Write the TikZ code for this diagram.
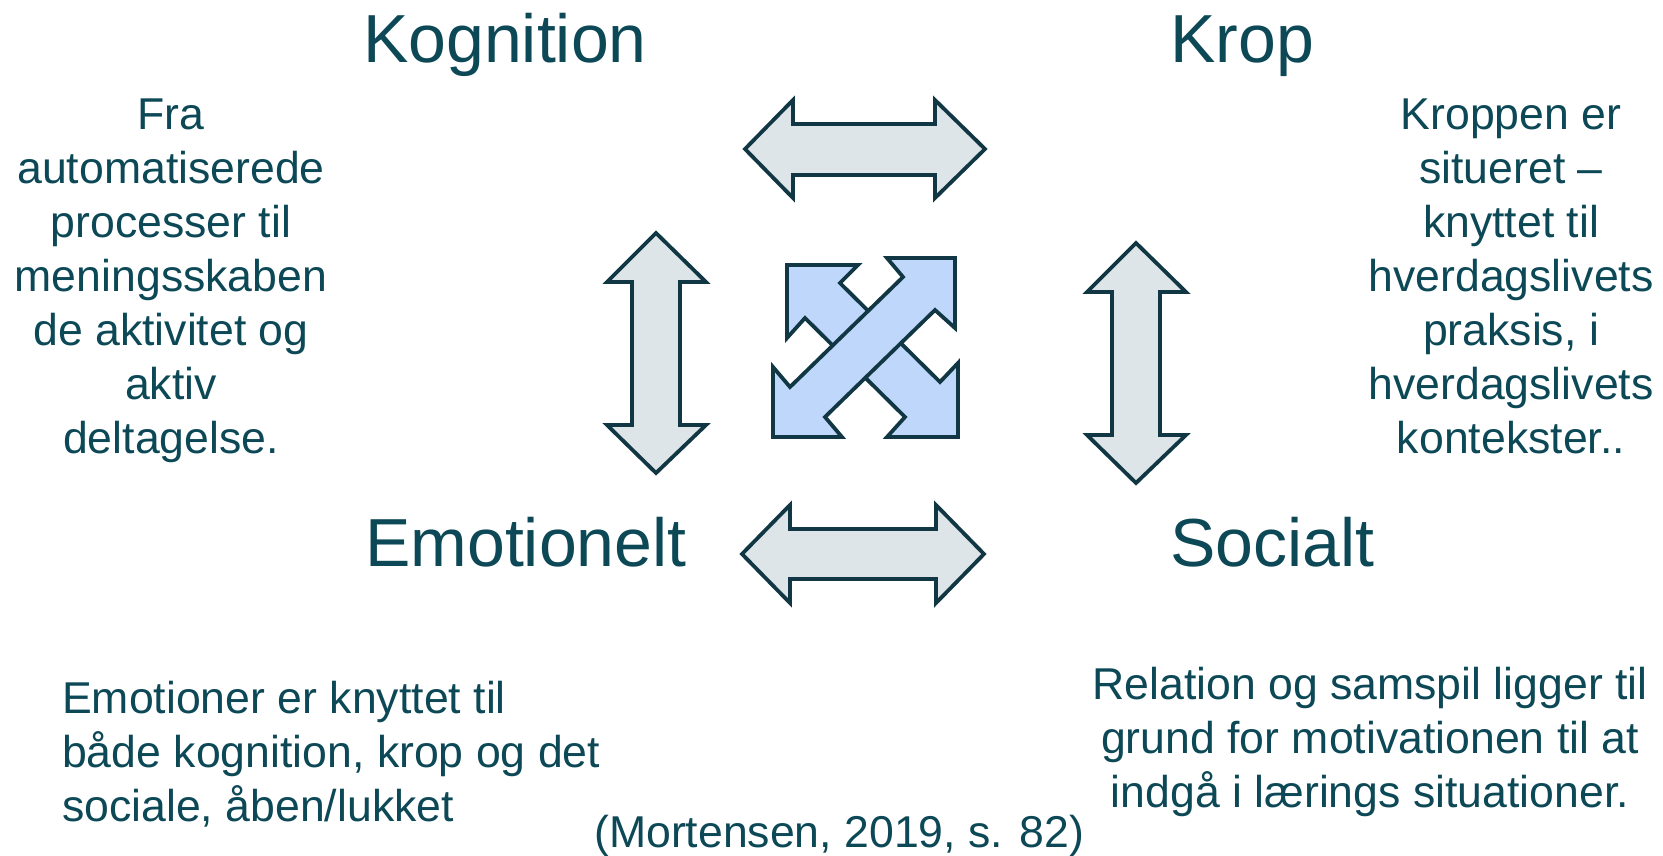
\documentclass[tikz,border=0pt]{standalone}
\usepackage{fontspec}
\setmainfont{Liberation Sans}
\definecolor{txt}{RGB}{12,72,86}
\definecolor{edge}{RGB}{18,55,68}
\definecolor{greyfill}{RGB}{222,229,232}
\definecolor{bluefill}{RGB}{190,215,250}
\tikzset{
  title/.style={inner sep=0pt, anchor=base west, text=txt, font=\fontsize{68}{80}\selectfont},
  body/.style={inner sep=0pt, anchor=base, text=txt, font=\fontsize{44.6}{54}\selectfont},
  greyarrow/.style={draw=edge, fill=greyfill, line width=3.8pt, line join=miter},
  bluearrow/.style={draw=edge, fill=bluefill, line width=3.8pt, line join=miter}
}
\begin{document}
\begin{tikzpicture}[x=1pt,y=-1pt]
\useasboundingbox (0,0) rectangle (1663,855);

% titles
\node[title] (kog) at (363,62) {Kognition};
\node[title] (krop) at (1170,62) {Krop};
\node[title] (emo) at (365,566) {Emotionelt};
\node[title] (soc) at (1170,566) {Socialt};

% body texts (anchor base = baseline of the last line)
\node[body, align=center] (kogtxt) at (171,453) {Fra\\automatiserede\\processer til\\meningsskaben\\de aktivitet og\\aktiv\\deltagelse.};
\node[body, align=center] (kroptxt) at (1511,453) {Kroppen er\\situeret –\\knyttet til\\hverdagslivets\\praksis, i\\hverdagslivets\\kontekster..};
\node[body, align=left, anchor=base west] (emotxt) at (62,821) {Emotioner er knyttet til\\både kognition, krop og det\\sociale, åben/lukket};
\node[body, align=center] (soctxt) at (1370,807) {Relation og samspil ligger til\\grund for motivationen til at\\indgå i lærings situationer.};
\node[body, anchor=base west] (ref) at (594,847) {(Mortensen, 2019, s. 82)};

% top horizontal double arrow
\draw[greyarrow] (745,149) -- (793,100) -- (793,124) -- (935,124) -- (935,100) -- (985,149)
  -- (935,198) -- (935,175) -- (793,175) -- (793,198) -- cycle;
% bottom horizontal double arrow
\draw[greyarrow] (742,554) -- (790,505) -- (790,529) -- (936,529) -- (936,505) -- (984,554)
  -- (936,603) -- (936,579) -- (790,579) -- (790,603) -- cycle;
% left vertical double arrow
\draw[greyarrow] (656,233) -- (706,282) -- (680,282) -- (680,425) -- (706,425) -- (656,473)
  -- (607,425) -- (632,425) -- (632,282) -- (607,282) -- cycle;
% right vertical double arrow
\draw[greyarrow] (1136,243) -- (1186,292) -- (1160,292) -- (1160,435) -- (1186,435) -- (1136,483)
  -- (1087,435) -- (1112,435) -- (1112,292) -- (1087,292) -- cycle;

% centre quad arrow: NW-SE behind
\draw[bluearrow] (787,265) -- (858,265) -- (840,283) -- (940,382) -- (958,363) -- (958,437)
  -- (887,437) -- (905,417) -- (805,318) -- (787,338) -- cycle;
% NE-SW in front
\draw[bluearrow] (955,258) -- (887,258) -- (903,277) -- (790,387) -- (773,367) -- (773,437)
  -- (842,437) -- (825,417) -- (935,310) -- (955,328) -- cycle;
\end{tikzpicture}
\end{document}
